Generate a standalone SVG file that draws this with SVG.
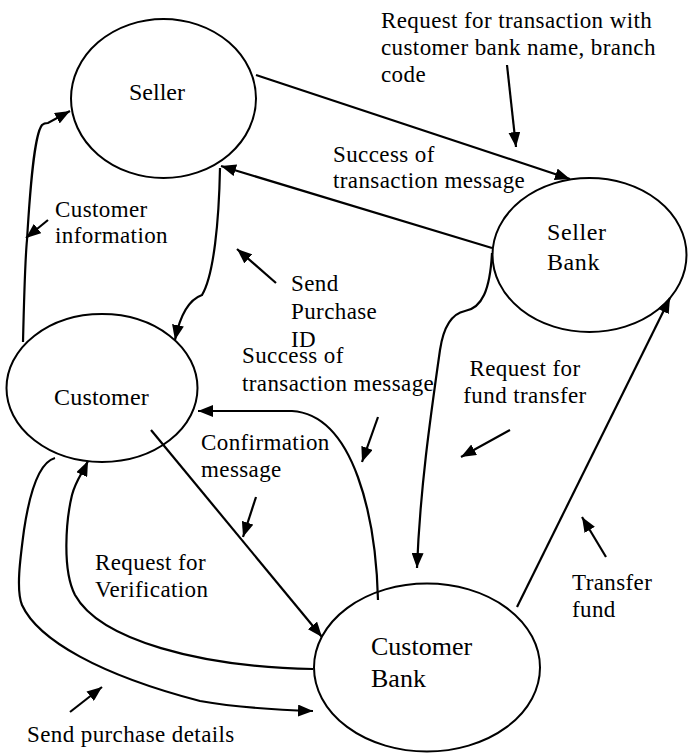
<svg xmlns="http://www.w3.org/2000/svg" width="689" height="754" viewBox="0 0 689 754">
<defs>
<marker id="ah" viewBox="0 0 15 12" markerWidth="15" markerHeight="12" refX="15" refY="6" orient="auto" markerUnits="userSpaceOnUse">
<path d="M0,0 L15,6 L0,12 z" fill="#000"/>
</marker>
<style>
.node{fill:none;stroke:#000;stroke-width:2}
.c{fill:none;stroke:#000;stroke-width:2.2;marker-end:url(#ah)}
.lbl{font-family:'Liberation Serif',serif;font-size:23px;letter-spacing:0.4px;fill:#000}
.nl{font-family:'Liberation Serif',serif;fill:#000}
</style>
</defs>
<rect width="689" height="754" fill="#fff"/>
<g id="connectors">
<path class="c" d="M256,75 L570,179"/>
<path class="c" d="M492,248 L221,166"/>
<path class="c" d="M220,168 C219,220 214,275 202,295 C188,300 180,315 175,340"/>
<path class="c" d="M23,342 C24,300 25,260 27,240 C30,190 34,135 42,125 C44,123 46,123 48,123 L70,111"/>
<path class="c" d="M378,600 C376,520 355,415 292,411 L198,411"/>
<path class="c" d="M151,430 L322,637"/>
<path class="c" d="M313,669 C200,667 100,640 75,595 C62,570 66,520 72,495 C76,480 82,474 88,461"/>
<path class="c" d="M55,458 C40,462 30,490 24,530 C20,560 16,590 22,605 C38,640 100,675 200,701 C240,708 280,710 313,711"/>
<path class="c" d="M492,253 C490,290 482,308 465,311 C450,314 443,330 440,350 C430,420 420,490 417,568"/>
<path class="c" d="M517,607 L670,298"/>
<path class="c" d="M507,65 L516,147"/>
<path class="c" d="M48,220 L26,238"/>
<path class="c" d="M276,283 L237,249"/>
<path class="c" d="M378,417 L362,462"/>
<path class="c" d="M510,430 L461,457"/>
<path class="c" d="M256,497 L243,537"/>
<path class="c" d="M606,557 L582,517"/>
<path class="c" d="M70,712 L102,687"/>
</g>
<g id="labels">
<text class="lbl"><tspan x="381" y="28">Request for transaction with</tspan><tspan x="381" y="55">customer bank name, branch</tspan><tspan x="381" y="82">code</tspan></text>
<text class="lbl"><tspan x="333" y="162">Success of</tspan><tspan x="333" y="188">transaction message</tspan></text>
<text class="lbl"><tspan x="55" y="217">Customer</tspan><tspan x="55" y="243">information</tspan></text>
<text class="lbl"><tspan x="291" y="291">Send</tspan><tspan x="291" y="319">Purchase</tspan><tspan x="291" y="347">ID</tspan></text>
<text class="lbl"><tspan x="242" y="363">Success of</tspan><tspan x="242" y="391">transaction message</tspan></text>
<text class="lbl" text-anchor="middle"><tspan x="525" y="376">Request for</tspan><tspan x="525" y="403">fund transfer</tspan></text>
<text class="lbl"><tspan x="201" y="450">Confirmation</tspan><tspan x="201" y="477">message</tspan></text>
<text class="lbl"><tspan x="95" y="570">Request for</tspan><tspan x="95" y="597">Verification</tspan></text>
<text class="lbl"><tspan x="572" y="590">Transfer</tspan><tspan x="572" y="617">fund</tspan></text>
<text class="lbl" x="27" y="742">Send purchase details</text>
</g>
<g id="seller">
<ellipse class="node" cx="163.5" cy="98.5" rx="92.5" ry="79.5"/>
<text class="nl" font-size="24" x="129" y="100">Seller</text>
</g>
<g id="seller-bank">
<ellipse class="node" cx="589.5" cy="255" rx="97" ry="77"/>
<text class="nl" font-size="24" letter-spacing="0.6"><tspan x="547" y="240">Seller</tspan><tspan x="547" y="270">Bank</tspan></text>
</g>
<g id="customer">
<ellipse class="node" cx="102" cy="388" rx="95.5" ry="74"/>
<text class="nl" font-size="24" letter-spacing="0.2" x="54" y="405">Customer</text>
</g>
<g id="customer-bank">
<ellipse class="node" cx="427" cy="667.5" rx="113" ry="84"/>
<text class="nl" font-size="26"><tspan x="371" y="655">Customer</tspan><tspan x="371" y="687">Bank</tspan></text>
</g>
</svg>
